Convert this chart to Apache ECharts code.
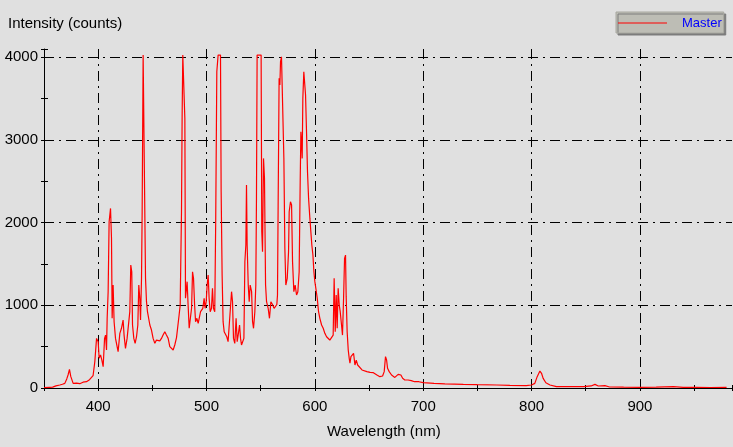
<!DOCTYPE html>
<html>
<head>
<meta charset="utf-8">
<script src="https://cdn.jsdelivr.net/npm/echarts@6/dist/echarts.min.js"></script>
<style>
  html, body { margin: 0; padding: 0; background: #e0e0e0; }
  #chart { width: 733px; height: 447px; }
</style>
</head>
<body>
<div id="chart"></div>
<script>
// spectrum (nm, counts)
const wavelength = [
  350, 355, 358, 361, 364.6, 367, 369.2, 371, 372.2, 373.5, 374.7, 376.9, 380, 383, 386, 389.2, 392, 393.8, 395.3, 396.9,
  398.5, 400, 400.9, 402.2, 403.4, 404.6, 405.9, 406.8, 407.7, 408.3, 409.2, 410.1, 411.4, 412.3, 412.9, 413.8, 414.7, 416, 416.9, 418.4,
  420, 421.5, 423, 423.9, 425.2, 426.7, 428.3, 429.2, 430.1, 431, 431.7, 432.9, 434.1, 435.4, 436.6, 437.5, 438.4, 439.1, 440, 440.6,
  441.5, 443.1, 443.7, 444.6, 445.5, 446.7, 447.7, 449.2, 450.7, 452.3, 453.8, 455.3, 456.9, 458.4, 459.9, 461.5, 463, 464.6, 466.1, 467.7,
  469.2, 470.7, 472.3, 473.8, 474.7, 475.7, 476.9, 477.5, 478.1, 479.3, 480, 480.6, 481.2, 482.1, 483, 484, 484.9, 486.2, 487.1, 488,
  489, 489.9, 491.1, 492.3, 493.6, 494.5, 495.4, 496.6, 497.8, 498.7, 499.7, 500.6, 501.5, 502.4, 503.4, 504.6, 505.5, 506.4, 507.6, 508.5,
  509.5, 510.7, 512.9, 513.5, 514.4, 515.3, 516.3, 517.5, 518.7, 519.9, 521.5, 523.1, 524, 524.9, 526.1, 527.3, 528.3, 529.2, 530.5, 531.4,
  532.3, 533.6, 534.5, 535.4, 536.3, 536.9, 537.5, 538.5, 539.4, 540.3, 541.6, 542.5, 543.4, 544.6, 545.5, 546.1, 546.7, 550.4, 551, 551.7,
  552.6, 553.5, 554.5, 555.4, 556.9, 558.1, 559.4, 560.9, 562.4, 563.7, 564.9, 565.5, 566.1, 567, 567.7, 568.3, 569.2, 570.2, 570.8, 571.4,
  572.3, 573.2, 574.5, 575.7, 576.3, 577.5, 578.5, 579.4, 580.6, 581.8, 583.1, 584.3, 585.5, 586.5, 587.1, 587.7, 588.3, 588.9, 589.8, 590.8,
  591.4, 592.3, 593.2, 594.2, 595.4, 596.3, 597.2, 598.2, 599.1, 600, 600.9, 602.2, 603.4, 604.6, 606.2, 607.7, 609.2, 610.8, 612.3, 613.8,
  615.4, 616.9, 617.8, 618.8, 619.7, 620.6, 621.5, 622.5, 623.4, 624.6, 625.5, 626.5, 627.4, 628.3, 628.9, 629.8, 630.8, 631.7, 632.4, 633.3,
  634.5, 635.7, 637, 638.2, 639.5, 641.3, 643.5, 645, 648, 651, 654, 657.3, 660, 662.5, 664, 665.2, 666.2, 667.1, 668.6, 670.8,
  672.3, 673.8, 675.4, 676.9, 678.5, 679.4, 681, 683, 686, 689, 692, 696, 700, 710, 720, 737, 750, 768, 780, 795,
  800, 803, 805.2, 807.7, 809.2, 810.7, 813.2, 817, 823, 835, 848, 855, 858.5, 861.6, 867.7, 872, 885, 900, 915, 931,
  940, 952, 965, 980
];
const intensity = [
  5, 8, 10, 25, 36, 45, 56, 110, 157, 226, 140, 56, 60, 52, 70, 76, 100, 117, 150, 318,
  600, 560, 360, 400, 338, 258, 600, 640, 460, 843, 1165, 2011, 2172, 1810, 843, 1245, 802, 600, 580, 439,
  661, 722, 822, 640, 480, 600, 600, 923, 1487, 1406, 762, 600, 540, 620, 762, 1245, 1085, 822, 1326, 2132,
  4026, 4026, 1326, 1044, 923, 900, 762, 701, 600, 540, 580, 560, 570, 600, 640, 681, 640, 600, 500, 480,
  460, 520, 610, 610, 883, 1003, 2132, 3300, 4026, 4026, 3260, 1085, 1165, 1286, 1003, 722, 720, 964, 1406, 1326,
  1003, 802, 843, 782, 800, 923, 900, 964, 1085, 964, 1044, 1245, 1366, 1085, 923, 964, 1205, 964, 923, 2051,
  3825, 4026, 4026, 2374, 1366, 802, 681, 681, 620, 560, 540, 1165, 1044, 600, 540, 843, 560, 640, 762, 600,
  520, 500, 600, 1527, 1729, 2455, 1729, 1245, 1044, 1245, 1165, 802, 722, 923, 1245, 2293, 4026, 4026, 1890, 1648,
  2777, 2535, 1245, 1044, 964, 843, 1044, 1010, 964, 950, 1010, 1125, 2213, 3745, 3664, 3946, 4006, 4000, 4026, 2777,
  1689, 1245, 1326, 1648, 2132, 2253, 2213, 1527, 1165, 1245, 1125, 1165, 1406, 2535, 3100, 2978, 2777, 3503, 3825, 3825,
  3543, 3100, 2616, 2293, 2051, 1890, 1729, 1608, 1406, 1286, 1205, 1085, 923, 843, 762, 722, 661, 620, 600, 580,
  590, 640, 1326, 681, 1125, 722, 1205, 1003, 923, 762, 640, 1085, 1568, 1608, 1105, 681, 460, 359, 300, 379,
  400, 420, 278, 338, 278, 258, 218, 198, 198, 188, 185, 157, 137, 145, 198, 379, 338, 238, 198, 157,
  137, 128, 135, 165, 188, 157, 117, 97, 97, 89, 76, 76, 64, 55, 50, 44, 40, 36, 32, 28,
  36, 56, 137, 205, 178, 117, 64, 36, 16, 18, 16, 25, 44, 24, 28, 12, 10, 8, 10, 16,
  8, 8, 6, 8
];

const seriesName = "Master";
const fontFamily = "'Liberation Sans', Arial, sans-serif";

const chart = echarts.init(document.getElementById("chart"));
chart.setOption({
  animation: false,
  backgroundColor: "#e0e0e0",
  title: [
    {
      text: "Intensity (counts)",
      left: 8,
      top: 16,
      padding: 0,
      textStyle: { fontSize: 15, fontWeight: "normal", color: "#000", fontFamily: fontFamily },
    },
    {
      text: "Wavelength (nm)",
      left: 327,
      top: 424,
      padding: 0,
      textStyle: { fontSize: 15, fontWeight: "normal", color: "#000", fontFamily: fontFamily },
    },
  ],
  legend: {
    data: [seriesName],
    left: 616,
    top: 12,
    padding: [4, 2, 3, 2],
    icon: "rect",
    itemWidth: 49,
    itemHeight: 1,
    backgroundColor: "#bdbdb5",
    borderColor: "#a8a8a0",
    borderWidth: 1,
    shadowColor: "#7c7c7c",
    shadowOffsetX: 2,
    shadowOffsetY: 2,
    shadowBlur: 0,
    textStyle: { fontSize: 13, color: "#0000ff", fontFamily: fontFamily, padding: [0, 0, 0, 10], lineHeight: 14 },
  },
  grid: { left: 44, right: 1, top: 49, bottom: 59, outerBoundsMode: "none" },
  xAxis: [
    {
      type: "value",
      position: "bottom",
      min: 350,
      max: 985,
      interval: 50,
      axisLine: { lineStyle: { color: "#000", width: 1 } },
      axisTick: { length: 3, lineStyle: { color: "#000" } },
      axisLabel: {
        margin: 11,
        fontSize: 15,
        color: "#000",
        fontFamily: fontFamily,
        formatter: (v) => (v % 100 === 0 ? String(v) : ""),
      },
      splitLine: {
        show: true,
        showMinLine: false,
        showMaxLine: false,
        lineStyle: { color: ["#000", "rgba(0,0,0,0)"], width: 1, type: [10, 5, 2, 5] },
      },
    },
    {
      type: "value",
      position: "bottom",
      min: 350,
      max: 985,
      interval: 50,
      axisLine: { show: false },
      axisTick: { inside: true, length: 3, lineStyle: { color: "#000" } },
      axisLabel: { show: false },
      splitLine: { show: false },
    },
  ],
  yAxis: [
    {
      type: "value",
      position: "left",
      min: 0,
      max: 4100,
      interval: 500,
      axisLine: { show: true, lineStyle: { color: "#000", width: 1 } },
      axisTick: { show: true, length: 3, lineStyle: { color: "#000" } },
      axisLabel: {
        margin: 6,
        fontSize: 15,
        color: "#000",
        fontFamily: fontFamily,
        formatter: (v) => (v % 1000 === 0 && v <= 4000 ? String(v) : ""),
      },
      splitLine: {
        show: true,
        showMinLine: false,
        showMaxLine: false,
        lineStyle: { color: ["rgba(0,0,0,0)", "#000"], width: 1, type: [10, 5, 2, 5] },
      },
    },
    {
      type: "value",
      position: "left",
      min: 0,
      max: 4100,
      interval: 500,
      axisLine: { show: false },
      axisTick: { show: true, inside: true, length: 4, lineStyle: { color: "#000" } },
      axisLabel: { show: false },
      splitLine: { show: false },
    },
  ],
  series: [
    {
      name: seriesName,
      type: "line",
      xAxisIndex: 0,
      yAxisIndex: 0,
      symbol: "none",
      data: wavelength.map((w, i) => [w, intensity[i]]),
      lineStyle: { color: "#ff0000", width: 1.2 },
      itemStyle: { color: "#ff0000" },
    },
  ],
});
</script>
</body>
</html>
